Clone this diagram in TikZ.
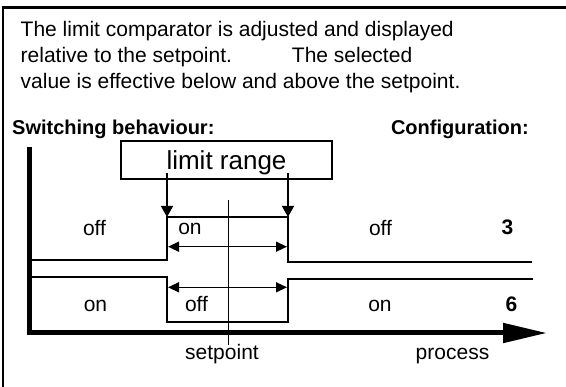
\documentclass[tikz,border=0pt]{standalone}
\usepackage{fontspec}
\setmainfont{Liberation Sans}
\usepackage{tikz}
\usetikzlibrary{arrows.meta}
\usetikzlibrary{positioning}

\tikzset{
  txt/.style={font=\fontsize{21}{25}\selectfont, inner sep=0pt},
  tag/.style={txt, anchor=base},
  head/.style={txt, font=\fontsize{20}{24}\selectfont\bfseries},
  guide/.style={line width=1.4pt},
  signal/.style={line width=2pt},
  axis/.style={line width=5pt, -{Triangle[length=44pt,width=19pt]}},
  down/.style={guide, -{Triangle[length=11pt,width=12pt]}},
  span/.style={guide, {Triangle[length=11pt,width=10pt]}-{Triangle[length=11pt,width=10pt]}},
  rangebox/.style={draw, line width=1.8pt, minimum width=211pt, minimum height=38pt, inner sep=0pt, text depth=0pt, font=\fontsize{26}{30}\selectfont}
}

\begin{document}
\begin{tikzpicture}[x=1pt, y=-1pt]
\useasboundingbox (0,0) rectangle (566,387);

\draw[line width=1.5pt] (3,387) -- (3,7.7);
\draw[line width=3pt] (1.5,7.7) -- (566,7.7);

\node[txt, anchor=base west] (intro1) at (20.5,37) {The limit comparator is adjusted and displayed};
\node[txt, anchor=base west] (intro2) at (20.5,63) {relative to the setpoint.\hspace*{60pt}The selected};
\node[txt, anchor=base west] (intro3) at (20.5,89) {value is effective below and above the setpoint.};

\node[head, anchor=base west] (switching) at (12,135) {Switching behaviour:};
\node[head, anchor=base east] (config) at (529,135) {Configuration:};

\node[rangebox] (range) at (226.5,160) {limit range};

\coordinate (ytop) at (29.5,147);
\coordinate (orig) at (29.5,333);
\coordinate (xend) at (547,333);
\draw[axis] (ytop) -- (orig) -- (xend);

\coordinate (rl) at (167,173);
\coordinate (rr) at (288,173);
\coordinate (hiL) at (167,217);
\coordinate (hiR) at (288,217);

\draw[signal] (29.5,260) -- (167,260) -- (hiL) -- (hiR) -- (288,262) -- (532,262);
\draw[signal] (29.5,277) -- (167,277) -- (167,322) -- (288,322) -- (288,279) -- (533,279);

\draw[down] (rl) -- (hiL);
\draw[down] (rr) -- (hiR);
\draw[span] (168,246.7) -- (287,246.7);
\draw[span] (168,287.3) -- (287,287.3);

\node[tag] (setpoint) at (222,360) {setpoint};
\node[tag] (process) at (452.5,360) {process};
\coordinate (sptop) at (228.3,200);
\draw[guide] (sptop) -- (sptop |- setpoint.north);

\node[tag] (offA) at (94.5,236) {off};
\node[tag] (onA) at (190,235) {on};
\node[tag] (offB) at (380.5,236) {off};
\node[tag, font=\fontsize{21}{25}\selectfont\bfseries] (cfgA) at (507.5,235) {3};
\node[tag] (onB) at (95.5,312) {on};
\node[tag] (offC) at (196.5,312) {off};
\node[tag] (onC) at (380,312) {on};
\node[tag, font=\fontsize{21}{25}\selectfont\bfseries] (cfgB) at (511.5,312) {6};
\end{tikzpicture}
\end{document}
